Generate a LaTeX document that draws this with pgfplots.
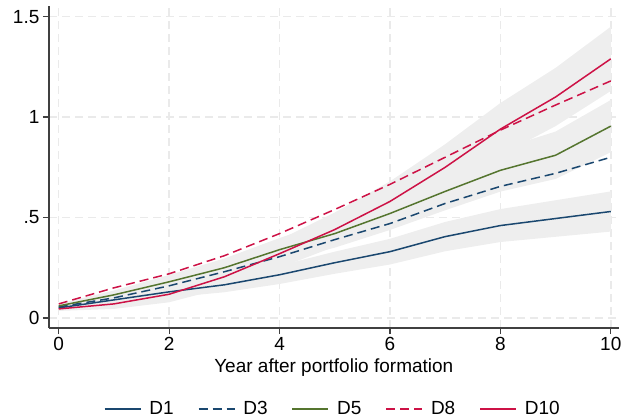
\documentclass[border=0pt]{standalone}
\usepackage{pgfplots}
\pgfplotsset{compat=1.18}
\usepackage{pgfplotstable}
\usepgfplotslibrary{fillbetween}
\usepackage{fontspec}
\setmainfont{Liberation Sans}
\definecolor{snavy}{RGB}{26,71,111}
\definecolor{sgreen}{RGB}{85,117,47}
\definecolor{sred}{RGB}{205,18,70}
\definecolor{band}{RGB}{238,238,238}
\definecolor{gridc}{RGB}{234,234,234}

\pgfplotstableread{
x   D1    D3    D5    D8    D10
0   0.050 0.055 0.060 0.070 0.045
1   0.090 0.100 0.115 0.150 0.070
2   0.130 0.160 0.180 0.220 0.118
3   0.165 0.230 0.250 0.310 0.205
4   0.215 0.305 0.340 0.420 0.320
5   0.275 0.390 0.420 0.540 0.440
6   0.330 0.470 0.520 0.665 0.580
7   0.405 0.570 0.630 0.800 0.750
8   0.460 0.655 0.735 0.935 0.940
9   0.495 0.720 0.810 1.060 1.100
10  0.530 0.800 0.955 1.180 1.290
}\means

\pgfplotstableread{
x   lo1   hi1   lo5   hi5   lo10  hi10
0   0.040 0.060 0.050 0.070 0.035 0.055
1   0.071 0.109 0.093 0.137 0.045 0.095
2   0.102 0.158 0.146 0.214 0.078 0.158
3   0.128 0.202 0.204 0.296 0.150 0.260
4   0.169 0.261 0.282 0.398 0.250 0.390
5   0.220 0.330 0.350 0.490 0.355 0.525
6   0.266 0.394 0.438 0.602 0.480 0.680
7   0.332 0.478 0.536 0.724 0.635 0.865
8   0.378 0.542 0.629 0.841 0.810 1.070
9   0.404 0.586 0.692 0.928 0.955 1.245
10  0.430 0.630 0.825 1.085 1.130 1.450
}\bands

\begin{document}
\begin{tikzpicture}
\begin{axis}[
  scale only axis,
  width=285bp, height=161bp,
  xmin=-0.18, xmax=10.145,
  ymin=-0.05, ymax=1.553,
  axis x line*=bottom, axis y line*=left,
  axis line style={-, line width=0.7bp, black!75},
  tick align=outside,
  major tick length=3bp,
  tick style={line width=0.6bp, black!75},
  xtick={0,2,4,6,8,10},
  ytick={0,0.5,1,1.5},
  yticklabels={0,.5,1,1.5},
  /pgf/number format/assume math mode=true,
  tick label style={font=\fontsize{9.5bp}{11bp}\selectfont},
  label style={font=\fontsize{9.5bp}{11bp}\selectfont},
  yticklabel style={inner sep=1.5bp},
  xticklabel style={inner sep=1.5bp},
  grid=major,
  major grid style={gridc, line width=0.7bp, dash pattern=on 4bp off 2.5bp},
  xlabel={Year after portfolio formation},
  xlabel style={at={(axis description cs:0.5,-0.124)}, anchor=center},
  legend columns=5,
  legend style={at={(axis description cs:0.5,-0.252)}, anchor=center, draw=none,
    font=\fontsize{9.5bp}{11bp}\selectfont,
    /tikz/every even column/.append style={column sep=10bp},
    /tikz/every odd column/.append style={column sep=2bp}},
  legend cell align=left,
  legend image code/.code={\draw[#1, line width=0.8bp] (0bp,0bp) -- (18bp,0bp);},
]
% bands
\addplot[name path=l1, draw=none, forget plot] table[x=x, y=lo1] {\bands};
\addplot[name path=h1, draw=none, forget plot] table[x=x, y=hi1] {\bands};
\addplot[band, forget plot] fill between[of=l1 and h1];
\addplot[name path=l5, draw=none, forget plot] table[x=x, y=lo5] {\bands};
\addplot[name path=h5, draw=none, forget plot] table[x=x, y=hi5] {\bands};
\addplot[band, forget plot] fill between[of=l5 and h5];
\addplot[name path=l10, draw=none, forget plot] table[x=x, y=lo10] {\bands};
\addplot[name path=h10, draw=none, forget plot] table[x=x, y=hi10] {\bands};
\addplot[band, forget plot] fill between[of=l10 and h10];
% lines
\addplot[color=snavy, line width=0.75bp, mark=none] table[x=x, y=D1] {\means};
\addlegendentry{D1}
\addplot[color=snavy, line width=0.75bp, mark=none, dash pattern=on 4.5bp off 2.5bp] table[x=x, y=D3] {\means};
\addlegendentry{D3}
\addplot[color=sgreen, line width=0.75bp, mark=none] table[x=x, y=D5] {\means};
\addlegendentry{D5}
\addplot[color=sred, line width=0.75bp, mark=none, dash pattern=on 4.5bp off 2.5bp] table[x=x, y=D8] {\means};
\addlegendentry{D8}
\addplot[color=sred, line width=0.75bp, mark=none] table[x=x, y=D10] {\means};
\addlegendentry{D10}
\end{axis}
\pgfresetboundingbox
\path[use as bounding box] (current axis.south west) ++(-24.4bp,-45.5bp) rectangle ++(317bp,209.5bp);
\end{tikzpicture}
\end{document}
